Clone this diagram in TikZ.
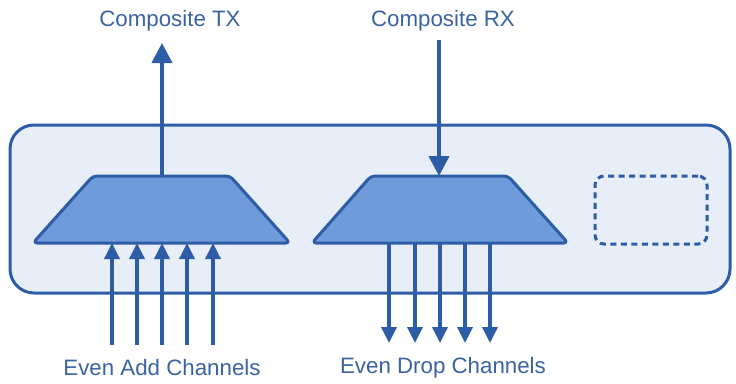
\documentclass[tikz,border=0pt]{standalone}
\usepackage{fontspec}
\setmainfont{Liberation Sans}
\usetikzlibrary{arrows.meta}
\definecolor{lineblue}{HTML}{2C5DA6}
\definecolor{trapfill}{HTML}{6F9BDA}
\definecolor{boxfill}{HTML}{E7EEF8}
\definecolor{textblue}{HTML}{3B63A0}
\tikzset{
  chassis/.style={draw=lineblue, fill=boxfill, line width=3pt, rounded corners=24pt, minimum width=720pt, minimum height=168pt, inner sep=0pt, outer sep=0pt},
  trap/.style={draw=lineblue, fill=trapfill, line width=3pt, rounded corners=4pt, line join=round},
  slot/.style={draw=lineblue, line width=3pt, dash pattern=on 6pt off 4.5pt, rounded corners=9pt, minimum width=112pt, minimum height=68pt, inner sep=0pt, outer sep=0pt},
  lbl/.style={text=textblue, font=\fontsize{22.3}{25}\selectfont, inner sep=0pt},
  bigarrow/.style={draw=lineblue, line width=4pt, -{Triangle[length=20pt, width=20pt]}},
  smallarrow/.style={draw=lineblue, line width=3.5pt, -{Triangle[length=16pt, width=15pt]}},
}
\begin{document}
\begin{tikzpicture}[x=1pt, y=-1pt]
\useasboundingbox (0,0) rectangle (736,383);
\node[chassis] (box) at (370,209) {};
\draw[trap] (33,243) coordinate (muxbl) -- (93,176) -- (230,176) -- (290,243) -- cycle;
\coordinate (muxtop) at (162,176);
\draw[trap] (312,243) coordinate (demuxbl) -- (371,176) -- (508,176) -- (568,243) -- cycle;
\coordinate (demuxtop) at (439,176);
\node[slot] (empty) at (651,210) {};
\node[lbl] (tx) at (170,21) {Composite TX};
\node[lbl] (rx) at (443,21) {Composite RX};
\node[lbl] (add) at (162,368) {Even Add Channels};
\node[lbl] (drop) at (443,368) {Even Drop Channels};
\coordinate (txtip) at (162,43);
\coordinate (rxstart) at (439,40);
\draw[bigarrow] (muxtop) -- (txtip);
\draw[bigarrow] (rxstart) -- (demuxtop);
\foreach \x [count=\i] in {112,137,162,187,213} {
  \coordinate (a\i) at (\x,345);
  \draw[smallarrow] (a\i) -- (a\i |- muxbl);
}
\foreach \x [count=\i] in {389,415,440,465,490} {
  \coordinate (d\i) at (\x,343);
  \draw[smallarrow] (d\i |- demuxbl) -- (d\i);
}
\end{tikzpicture}
\end{document}
